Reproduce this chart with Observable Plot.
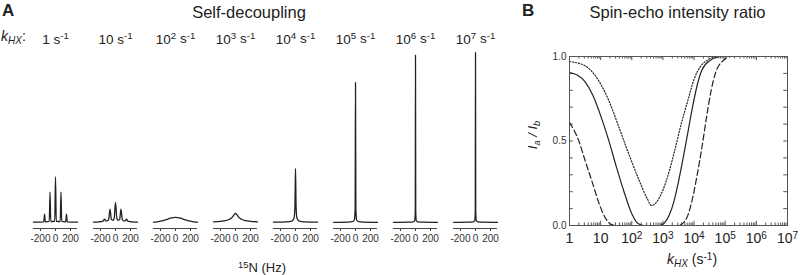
<!DOCTYPE html>
<html>
<head>
<meta charset="utf-8">
<script src="https://cdn.jsdelivr.net/npm/d3@7"></script>
<script src="https://cdn.jsdelivr.net/npm/@observablehq/plot@0.6"></script>
<style>
  body { margin: 0; background: #fff; font-family: "Liberation Sans", Arial, sans-serif; }
  #wrap { position: relative; width: 800px; height: 275px; overflow: hidden; background: #fff; }
  .t { position: absolute; white-space: nowrap; line-height: 1; color: #222; }
  .sub { font-size: 0.72em; position: relative; top: 0.3em; }
  .sup { font-size: 0.72em; position: relative; top: -0.45em; }
</style>
</head>
<body>
<div id="wrap"></div>
<script>
// ---------- Panel A: self-decoupling spectra ----------
const kLabels = ["1 s⁻¹", "10 s⁻¹", "10² s⁻¹", "10³ s⁻¹", "10⁴ s⁻¹", "10⁵ s⁻¹", "10⁶ s⁻¹", "10⁷ s⁻¹"];
const hzTicks = [-200, 0, 200];

const k1Hz  = [-293, -156, -146, -136, -83, -73, -63, -10, 0, 10, 63, 73, 83, 136, 146, 156, 293];
const k1Int = [0.002, 0.004, 0.049, 0.004, 0.006, 0.18, 0.006, 0.007, 0.269, 0.007, 0.006, 0.18, 0.006, 0.004, 0.049, 0.004, 0.002];

const k10Hz  = [-293, -220, -176, -164, -146, -128, -110, -91, -73, -55, -36, -18, 0, 18, 36, 55, 73, 91, 110, 128, 146, 164, 176, 220, 293];
const k10Int = [0.002, 0.004, 0.006, 0.009, 0.02, 0.009, 0.01, 0.018, 0.078, 0.018, 0.013, 0.024, 0.118, 0.024, 0.013, 0.018, 0.078, 0.018, 0.01, 0.009, 0.02, 0.009, 0.006, 0.004, 0.002];

const k1e2Hz  = [-293, -240, -180, -120, -70, -30, 0, 30, 70, 120, 180, 240, 293];
const k1e2Int = [0.002, 0.004, 0.009, 0.017, 0.025, 0.029, 0.03, 0.029, 0.025, 0.017, 0.009, 0.004, 0.002];

const k1e3Hz  = [-293, -200, -130, -80, -45, -20, 0, 20, 45, 80, 130, 200, 293];
const k1e3Int = [0.004, 0.007, 0.011, 0.019, 0.03, 0.045, 0.053, 0.045, 0.03, 0.019, 0.011, 0.007, 0.004];

const k1e4Hz  = [-293, -120, -50, -20, -8, 0, 8, 20, 50, 120, 293];
const k1e4Int = [0.002, 0.004, 0.008, 0.025, 0.09, 0.318, 0.09, 0.025, 0.008, 0.004, 0.002];

const k1e5Hz  = [-293, -100, -40, -15, -5, 0, 5, 15, 40, 100, 293];
const k1e5Int = [0.001, 0.002, 0.005, 0.015, 0.08, 0.824, 0.08, 0.015, 0.005, 0.002, 0.001];

const k1e6Hz  = [-293, -100, -30, -10, -3, 0, 3, 10, 30, 100, 293];
const k1e6Int = [0.001, 0.002, 0.004, 0.012, 0.07, 0.985, 0.07, 0.012, 0.004, 0.002, 0.001];

const k1e7Hz  = [-293, -100, -30, -10, -3, 0, 3, 10, 30, 100, 293];
const k1e7Int = [0.001, 0.002, 0.004, 0.012, 0.07, 1.0, 0.07, 0.012, 0.004, 0.002, 0.001];

// ---------- Panel B: spin-echo intensity ratio ----------
const kTicks = [1, 10, 100, 1000, 10000, 100000, 1000000, 10000000];
const kTickLabels = ["1", "10", "10²", "10³", "10⁴", "10⁵", "10⁶", "10⁷"];
const ratioTicks = [0, 0.5, 1];

const solidLogK  = [0, 0.25, 0.5, 0.75, 1.0, 1.25, 1.5, 1.75, 2.0, 2.2, 2.4, 2.9, 3.05, 3.2, 3.35, 3.5, 3.65, 3.8, 3.95, 4.1, 4.25, 4.5, 4.9, 5.5, 7];
const solidRatio = [0.905, 0.89, 0.85, 0.77, 0.65, 0.51, 0.35, 0.2, 0.07, 0.012, 0, 0, 0.015, 0.06, 0.14, 0.26, 0.4, 0.55, 0.7, 0.83, 0.92, 0.975, 1, 1, 1];

const dottedLogK  = [0, 0.5, 0.94, 1.26, 1.59, 1.91, 2.23, 2.5, 2.64, 2.8, 3.0, 3.2, 3.4, 3.6, 3.8, 4.0, 4.2, 4.45, 4.8, 5.5, 7];
const dottedRatio = [0.97, 0.945, 0.856, 0.74, 0.58, 0.42, 0.27, 0.157, 0.118, 0.14, 0.21, 0.32, 0.46, 0.61, 0.74, 0.865, 0.94, 0.98, 1, 1, 1];

const dashedLogK  = [0, 0.3, 0.5, 0.75, 0.95, 1.15, 1.35, 1.5, 3.5, 3.65, 3.8, 3.95, 4.1, 4.25, 4.4, 4.55, 4.7, 4.9, 5.2, 6, 7];
const dashedRatio = [0.61, 0.5, 0.385, 0.245, 0.13, 0.045, 0.005, 0, 0, 0.015, 0.06, 0.16, 0.3, 0.46, 0.64, 0.8, 0.91, 0.97, 1, 1, 1];

// ---------- build tables ----------
const spectra = [
  [k1Hz, k1Int], [k10Hz, k10Int], [k1e2Hz, k1e2Int], [k1e3Hz, k1e3Int],
  [k1e4Hz, k1e4Int], [k1e5Hz, k1e5Int], [k1e6Hz, k1e6Int], [k1e7Hz, k1e7Int]
];
const specRows = spectra.flatMap(([hz, it], j) => hz.map((h, i) => ({k: kLabels[j], hz: h, int: it[i]})));

const toRows = (lk, r) => lk.map((v, i) => ({k: Math.pow(10, v), r: r[i]}));
const solidRows = toRows(solidLogK, solidRatio);
const dottedRows = toRows(dottedLogK, dottedRatio);
const dashedRows = toRows(dashedLogK, dashedRatio);

const wrap = document.getElementById("wrap");
const FONT = "'Liberation Sans', Arial, sans-serif";
const axisGap = -0.0353;

const pa = Plot.plot({
  width: 520, height: 275,
  marginLeft: 33, marginRight: 23, marginTop: 52, marginBottom: 47,
  style: {fontFamily: FONT, color: "#333", background: "transparent", overflow: "visible"},
  fx: {domain: kLabels, paddingInner: 0.267, paddingOuter: 0, label: null},
  x: {domain: [-293, 293], label: null},
  y: {domain: [axisGap, 1], axis: null},
  marks: [
    Plot.axisFx({anchor: "top", tickSize: 0, tickPadding: 9, fontSize: 13.5, label: null, fill: "#222"}),
    Plot.axisX({ticks: hzTicks, tickFormat: d => String(d), tickSize: 3, tickPadding: 3, fontSize: 10, label: null, stroke: "#444", fill: "#333"}),
    Plot.ruleY([axisGap], {stroke: "#444", strokeWidth: 1.2}),
    Plot.line(specRows, {fx: "k", x: "hz", y: "int", z: "k", curve: "monotone-x", stroke: "#222", strokeWidth: 1.3})
  ]
});
pa.style.position = "absolute"; pa.style.left = "0px"; pa.style.top = "0px";
wrap.appendChild(pa);

const xMinor = [];
for (let e = 0; e < 7; e++) for (let m = 2; m <= 9; m++) xMinor.push(m * Math.pow(10, e));
const yMinor = d3.range(0, 11).map(i => i / 10);

const pb = Plot.plot({
  width: 280, height: 275,
  marginLeft: 49, marginRight: 13, marginTop: 56, marginBottom: 50,
  style: {fontFamily: FONT, color: "#444", background: "transparent", overflow: "visible"},
  x: {type: "log", domain: [1, 1e7], label: null},
  y: {domain: [0, 1], label: null},
  marks: [
    Plot.axisY({ticks: ratioTicks, tickFormat: d3.format(".1f"), tickSize: 0, tickPadding: 3, fontSize: 10, label: null, fill: "#333"}),
    Plot.axisX({ticks: kTicks, tickFormat: d => kTickLabels[kTicks.indexOf(d)], tickSize: 0, tickPadding: 8, fontSize: 14, label: null, fill: "#222"}),
    Plot.ruleY(yMinor, {y: d => d, x1: 1, x2: Math.pow(10, 0.12), stroke: "#555"}),
    Plot.ruleY(yMinor, {y: d => d, x1: Math.pow(10, 6.88), x2: 1e7, stroke: "#555"}),
    Plot.ruleX(xMinor, {x: d => d, y1: 0, y2: 0.015, stroke: "#555"}),
    Plot.ruleX(xMinor, {x: d => d, y1: 0.985, y2: 1, stroke: "#555"}),
    Plot.ruleX(kTicks, {x: d => d, y1: 0, y2: 0.025, stroke: "#555"}),
    Plot.ruleX(kTicks, {x: d => d, y1: 0.975, y2: 1, stroke: "#555"}),
    Plot.line(dottedRows, {x: "k", y: "r", curve: "monotone-x", stroke: "#222", strokeWidth: 1.2, strokeDasharray: "1.2,1.8"}),
    Plot.line(solidRows, {x: "k", y: "r", curve: "monotone-x", stroke: "#222", strokeWidth: 1.2}),
    Plot.line(dashedRows, {x: "k", y: "r", curve: "monotone-x", stroke: "#222", strokeWidth: 1.2, strokeDasharray: "6,3"}),
    Plot.frame({stroke: "#555", strokeWidth: 1})
  ]
});
pb.style.position = "absolute"; pb.style.left = "520px"; pb.style.top = "0px";
wrap.appendChild(pb);

// render unicode superscripts in axis labels as raised, smaller tspans
const SUP = {"⁰":"0","¹":"1","²":"2","³":"3","⁴":"4","⁵":"5","⁶":"6","⁷":"7","⁸":"8","⁹":"9","⁻":"-"};
function raiseSuperscripts(svg) {
  const NS = "http://www.w3.org/2000/svg";
  svg.querySelectorAll("text").forEach(t => {
    const targets = t.querySelector("tspan") ? Array.from(t.querySelectorAll("tspan")) : [t];
    targets.forEach(el => {
      const s = el.textContent;
      if (!/[⁰¹²³⁴⁵⁶⁷⁸⁹⁻]/.test(s)) return;
      const runs = [];
      for (const ch of s) {
        const sup = ch in SUP;
        const c = sup ? SUP[ch] : ch;
        if (runs.length && runs[runs.length - 1].sup === sup) runs[runs.length - 1].s += c;
        else runs.push({sup, s: c});
      }
      el.textContent = "";
      let raised = false;
      runs.forEach(r => {
        const ts = document.createElementNS(NS, "tspan");
        ts.textContent = r.s;
        if (r.sup) { ts.setAttribute("font-size", "72%"); ts.setAttribute("dy", "-0.42em"); raised = true; }
        else if (raised) { ts.setAttribute("dy", "0.3em"); raised = false; }
        el.appendChild(ts);
      });
    });
  });
}
raiseSuperscripts(pa);
raiseSuperscripts(pb);

// ---------- text labels ----------
function addText(html, opts) {
  const d = document.createElement("div");
  d.className = "t";
  d.innerHTML = html;
  const fs = opts.fs;
  d.style.fontSize = fs + "px";
  if (opts.bold) d.style.fontWeight = "bold";
  d.style.top = (opts.baseline - 0.846 * fs) + "px";
  if (opts.cx !== undefined) { d.style.left = opts.cx + "px"; d.style.transform = "translateX(-50%)"; }
  else d.style.left = opts.left + "px";
  wrap.appendChild(d);
  return d;
}
addText("A", {left: 2, baseline: 16, fs: 17, bold: true});
addText("Self-decoupling", {cx: 249, baseline: 18.3, fs: 16.5});
addText("<i>k<span class='sub'>HX</span></i>:", {left: 1, baseline: 41, fs: 14});
addText("<span class='sup'>15</span>N (Hz)", {cx: 262, baseline: 272, fs: 13});
addText("B", {left: 522, baseline: 16, fs: 17, bold: true});
addText("Spin-echo intensity ratio", {cx: 677.5, baseline: 18.3, fs: 16.5});
addText("<i>k<span class='sub'>HX</span></i> (s<span class='sup'>-1</span>)", {cx: 692, baseline: 264, fs: 14});
const yl = document.createElement("div");
yl.className = "t";
yl.style.fontSize = "13px";
yl.innerHTML = "<i>I<span class='sub'>a</span> / I<span class='sub'>b</span></i>";
yl.style.left = "533px"; yl.style.top = "135px";
yl.style.transform = "translate(-50%, -50%) rotate(-90deg)";
wrap.appendChild(yl);
</script>
</body>
</html>
